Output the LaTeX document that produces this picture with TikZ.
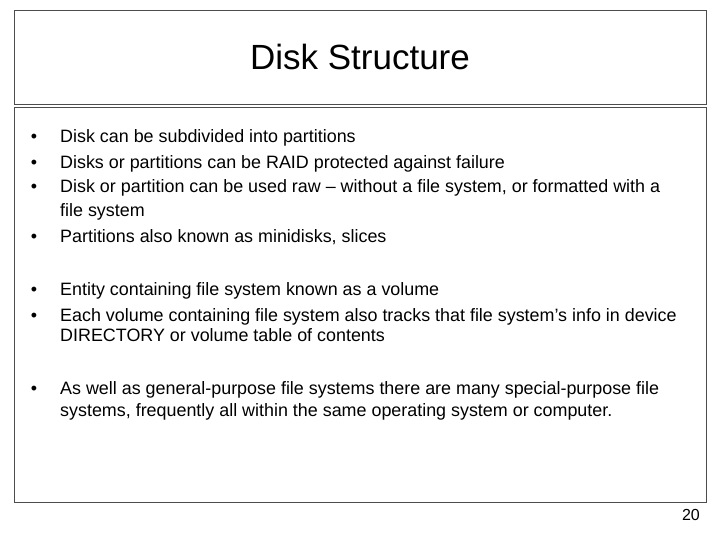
\documentclass[tikz,border=0pt]{standalone}
\usepackage{fontspec}
\setmainfont{Liberation Sans}
\begin{document}
\begin{tikzpicture}[x=1pt,y=-1pt,
  box/.style={draw=black!70,line width=0.8pt},
  ln/.style={anchor=base west,inner sep=0pt,font=\fontsize{17.9}{20}\selectfont},
  bul/.style={anchor=base,inner sep=0pt,font=\fontsize{17.9}{20}\selectfont}]
\useasboundingbox (0,0) rectangle (720,540);
\draw[box] (14,10) rectangle (706,104);
\draw[box] (14,107) rectangle (706,502);
\node[inner sep=0pt,font=\fontsize{35}{40}\selectfont] (title) at (360,57) {Disk Structure};
\foreach \y/\t [count=\i] in {
 143/{Disk can be subdivided into partitions},
 169/{Disks or partitions can be RAID protected against failure},
 193/{Disk or partition can be used raw -- without a file system, or formatted with a},
 217/{file system},
 243/{Partitions also known as minidisks, slices},
 295/{Entity containing file system known as a volume},
 321/{Each volume containing file system also tracks that file system’s info in device},
 341/{DIRECTORY or volume table of contents},
 394/{As well as general-purpose file systems there are many special-purpose file},
 416/{systems, frequently all within the same operating system or computer.}}
 {\node[ln] (l\i) at (60,\y) {\t};}
\foreach \y [count=\i] in {143,169,193,243,295,321,394}
 {\node[bul] (b\i) at (34,\y) {•};}
\node[anchor=base east,inner sep=0pt,font=\fontsize{16}{18}\selectfont] (num) at (700,520) {20};
\end{tikzpicture}
\end{document}
